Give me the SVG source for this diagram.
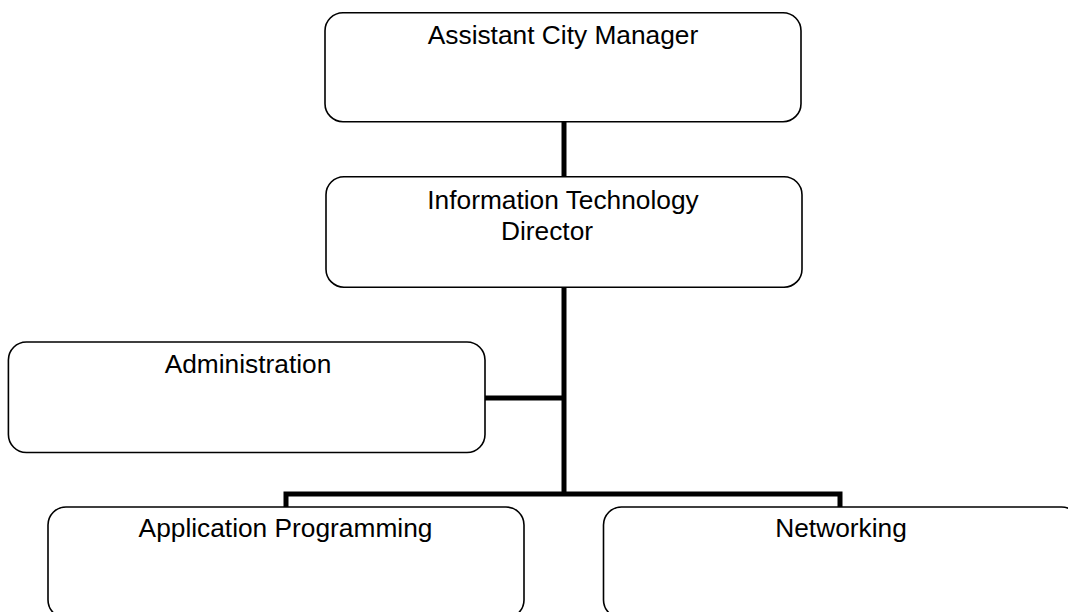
<svg xmlns="http://www.w3.org/2000/svg" width="1068" height="612" viewBox="0 0 1068 612">
<style>
.box{fill:#fff;stroke:#000;stroke-width:1.6}
.lbl{font-family:"Liberation Sans",Arial,sans-serif;font-size:26.3px;fill:#000;text-anchor:middle}
.conn{stroke:#000;stroke-width:5;fill:none;stroke-linecap:butt;stroke-linejoin:miter}
</style>
<rect width="1068" height="612" fill="#fff"/>
<g id="connectors">
<line class="conn" x1="564" y1="122" x2="564" y2="177"/>
<line class="conn" x1="564" y1="287" x2="564" y2="494"/>
<line class="conn" x1="485" y1="398" x2="564" y2="398"/>
<polyline class="conn" points="286,507 286,494 840,494 840,507"/>
</g>
<g id="assistant-city-manager">
<rect class="box" x="325" y="12.7" width="476" height="109" rx="18" ry="18"/>
<text class="lbl" x="563" y="44.3">Assistant City Manager</text>
</g>
<g id="it-director">
<rect class="box" x="326" y="176.7" width="476" height="110.5" rx="18" ry="18"/>
<text class="lbl" x="563" y="209.3">Information Technology</text>
<text class="lbl" x="547" y="240">Director</text>
</g>
<g id="administration">
<rect class="box" x="8.4" y="342" width="476.6" height="110.5" rx="18" ry="18"/>
<text class="lbl" x="248" y="373">Administration</text>
</g>
<g id="application-programming">
<rect class="box" x="48" y="507" width="476" height="111" rx="18" ry="18"/>
<text class="lbl" x="285.5" y="536.7">Application Programming</text>
</g>
<g id="networking">
<rect class="box" x="603.5" y="507" width="476" height="111" rx="18" ry="18"/>
<text class="lbl" x="841" y="536.7">Networking</text>
</g>
</svg>
